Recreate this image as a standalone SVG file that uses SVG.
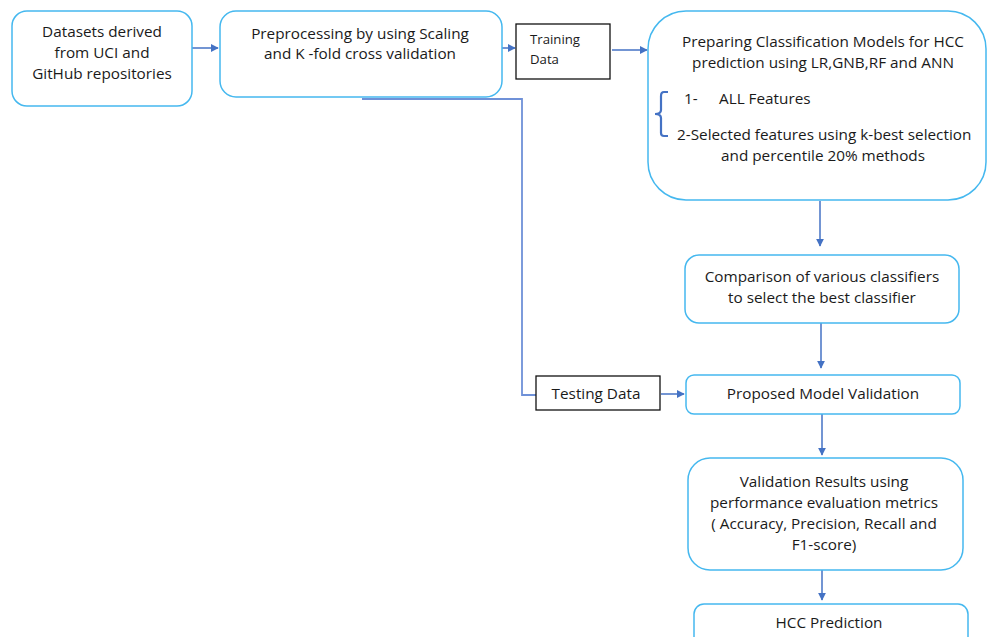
<svg xmlns="http://www.w3.org/2000/svg" width="987" height="637" viewBox="0 0 987 637">
<defs>
<style>
.box{fill:#fff;stroke:#45b8ef;stroke-width:1.5}
.rect{fill:#fff;stroke:#111;stroke-width:1.3}
.t{font-family:"Open Sans","Liberation Sans",sans-serif;font-size:15.3px;fill:#1a1a1a;text-anchor:middle}
.ts{font-family:"Open Sans","Liberation Sans",sans-serif;font-size:13.2px;fill:#1a1a1a}
.st{text-anchor:start}
.ar{fill:none;stroke:#4472c4;stroke-width:1.5;marker-end:url(#ah)}
.ln{fill:none;stroke:#6f91d8;stroke-width:1.8}
</style>
<marker id="ah" viewBox="0 0 10 10" refX="9" refY="5" markerWidth="8" markerHeight="8" markerUnits="userSpaceOnUse" orient="auto">
<path d="M0,0 L10,5 L0,10 z" fill="#4472c4"/>
</marker>
</defs>
<rect width="987" height="637" fill="#fff"/>
<g id="connectors">
<line class="ar" x1="192" y1="48" x2="218" y2="48"/>
<line class="ar" x1="502" y1="48" x2="515" y2="48"/>
<line class="ar" x1="612" y1="50" x2="647" y2="50"/>
<line class="ar" x1="820" y1="201" x2="820" y2="246"/>
<line class="ar" x1="821" y1="323" x2="821" y2="368"/>
<polyline class="ln" points="362,99 522,99 522,395 536,395"/>
<line class="ar" x1="661" y1="394" x2="684" y2="394"/>
<line class="ar" x1="822" y1="414" x2="822" y2="455"/>
<line class="ar" x1="822" y1="570" x2="822" y2="600"/>
</g>
<g id="datasets">
<rect class="box" x="12" y="11" width="180" height="95" rx="15"/>
<text class="t" x="102" y="37">Datasets derived</text>
<text class="t" x="102" y="58">from UCI and</text>
<text class="t" x="102" y="79">GitHub repositories</text>
</g>
<g id="preprocessing">
<rect class="box" x="220" y="11" width="282" height="86" rx="16"/>
<text class="t" x="360" y="39">Preprocessing by using Scaling</text>
<text class="t" x="360" y="59">and K -fold cross validation</text>
</g>
<g id="training">
<rect class="rect" x="516" y="24" width="94" height="55"/>
<text class="ts" x="530" y="44">Training</text>
<text class="ts" x="530" y="64">Data</text>
</g>
<g id="models">
<rect class="box" x="648" y="11" width="338" height="189" rx="38"/>
<text class="t" x="823" y="47">Preparing Classification Models for HCC</text>
<text class="t" x="823" y="68">prediction using LR,GNB,RF and ANN</text>
<text class="t st" x="684" y="104">1-</text>
<text class="t st" x="719" y="104">ALL Features</text>
<path d="M668,92 L664,92 Q661,92 661,96 L661,110 Q661,114 655,114 Q661,114 661,118 L661,133 Q661,136 664,136 L668,136" fill="none" stroke="#4472c4" stroke-width="2.2"/>
<text class="t st" x="677" y="140">2-Selected features using k-best selection</text>
<text class="t" x="823" y="161">and percentile 20% methods</text>
</g>
<g id="comparison">
<rect class="box" x="685" y="255" width="274" height="68" rx="14"/>
<text class="t" x="822" y="282">Comparison of various classifiers</text>
<text class="t" x="822" y="303">to select the best classifier</text>
</g>
<g id="testing">
<rect class="rect" x="536" y="376" width="124" height="34"/>
<text class="t" x="596" y="399">Testing Data</text>
</g>
<g id="validation">
<rect class="box" x="686" y="375" width="274" height="39" rx="8"/>
<text class="t" x="823" y="399">Proposed Model Validation</text>
</g>
<g id="results">
<rect class="box" x="688" y="458" width="275" height="112" rx="22"/>
<text class="t" x="824" y="487">Validation Results using</text>
<text class="t" x="824" y="508">performance evaluation metrics</text>
<text class="t" x="824" y="529">( Accuracy, Precision, Recall and</text>
<text class="t" x="824" y="550">F1-score)</text>
</g>
<g id="prediction">
<rect class="box" x="694" y="604" width="274" height="50" rx="10"/>
<text class="t" x="829" y="628">HCC Prediction</text>
</g>
</svg>
